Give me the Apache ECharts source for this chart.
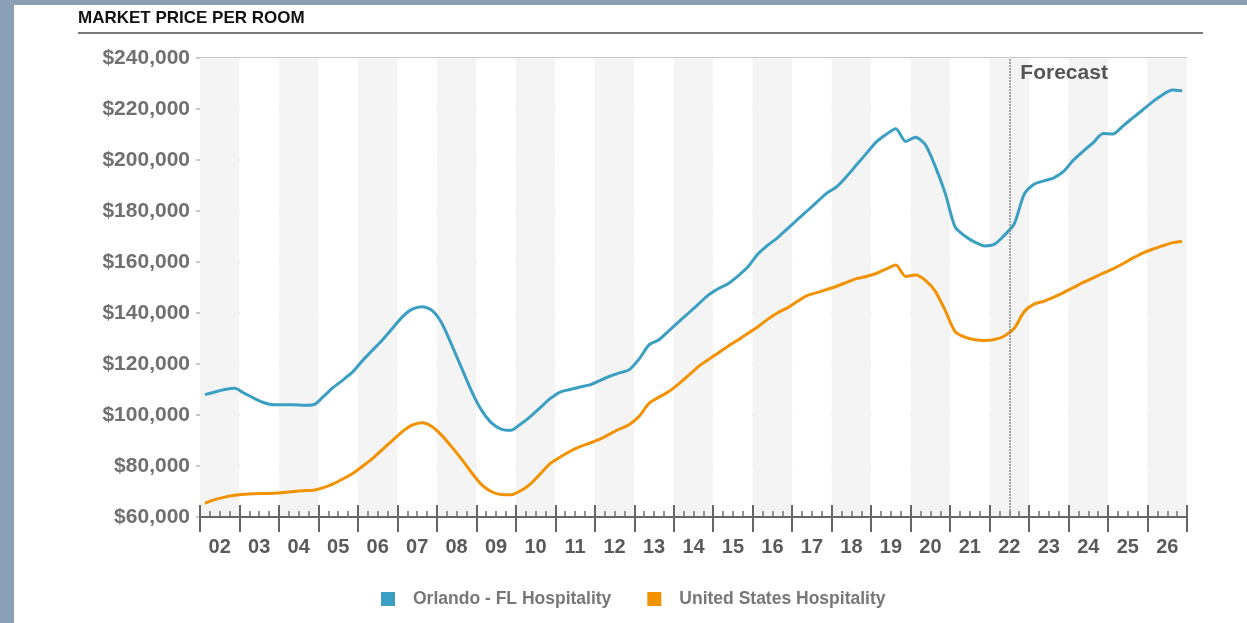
<!DOCTYPE html>
<html>
<head>
<meta charset="utf-8">
<script src="https://cdn.jsdelivr.net/npm/echarts@6/dist/echarts.min.js"></script>
<style>
  html, body { margin: 0; padding: 0; background: #ffffff; }
  #chart { width: 1247px; height: 623px; }
</style>
</head>
<body>
<div id="chart"></div>
<script>
// Quarterly market price per room, 2002 Q1 – 2026 Q4 (forecast from mid-2022)
const startYear = 2002;
const endYear = 2027;
const forecastStart = 2022.5;

const yearLabels = ['02','03','04','05','06','07','08','09','10','11','12','13',
  '14','15','16','17','18','19','20','21','22','23','24','25','26'];

const seriesNames = ['Orlando - FL Hospitality', 'United States Hospitality'];

const orlando = [
  108000, 109000, 110000, 110500,
  108500, 106500, 104800, 104000,
  104000, 104000, 103800, 104000,
  107200, 110800, 113800, 117000,
  121500, 125500, 129500, 134000,
  138500, 141500, 142500, 141000,
  136000, 127500, 118500, 109500,
  102000, 97000, 94500, 94000,
  96500, 99500, 103000, 106500,
  109000, 110000, 111000, 111800,
  113500, 115200, 116500, 117800,
  122000, 127500, 129500, 133000,
  136500, 140000, 143500, 147000,
  149500, 151500, 154500, 158000,
  163000, 166500, 169500, 173000,
  176500, 180000, 183500, 187000,
  189500, 193500, 198000, 202500,
  207000, 210000, 212300, 207300,
  208900, 205900, 197400, 187000,
  173800, 170200, 167800, 166300,
  167000, 170500, 175000, 186500,
  190500, 191800, 193000, 195500,
  200000, 203500, 206800, 210400,
  210200, 213300, 216500, 219600,
  222800, 225500, 227500, 227200
];

const unitedStates = [
  65400, 66800, 67800, 68500,
  68900, 69100, 69200, 69300,
  69600, 70000, 70300, 70500,
  71500, 73000, 75000, 77200,
  80000, 83000, 86500, 90000,
  93500, 96000, 97000, 95500,
  92000, 87500, 82700, 77500,
  72800, 70000, 68800, 68700,
  70300, 73000, 77000, 81000,
  83500, 85800, 87600, 89000,
  90500, 92500, 94500, 96300,
  99500, 104600, 107000, 109200,
  112200, 115500, 119000, 121700,
  124300, 127000, 129400, 132000,
  134500, 137500, 140000, 142000,
  144500, 146800, 148000, 149200,
  150500, 152000, 153500, 154300,
  155500, 157200, 158800, 154300,
  154900, 152800, 148500, 141000,
  132700, 130500, 129500, 129200,
  129600, 131000, 134000, 140500,
  143500, 144600, 146200, 148000,
  150000, 152000, 153800, 155600,
  157300, 159300, 161500, 163500,
  165000, 166300, 167500, 168000
];

const colors = ['#3a9fc2', '#f39200'];

// each value sits in the middle of its quarter
function toPoints(values) {
  return values.map((v, i) => [startYear + (i + 0.5) / 4, v]);
}

const FONT = '"Liberation Sans", Arial, sans-serif';

const chart = echarts.init(document.getElementById('chart'), null, { renderer: 'canvas' });

const option = {
  backgroundColor: '#ffffff',
  animation: false,
  color: colors,
  grid: { left: 200, right: 60, top: 58, bottom: 106, containLabel: false },
  xAxis: [
    {
      // quarterly scale carrying the lines, year ticks and quarter ticks
      type: 'value',
      min: startYear,
      max: endYear,
      interval: 1,
      axisLine: { show: true, lineStyle: { color: '#666666', width: 2 } },
      axisTick: { show: true, inside: true, length: 12, lineStyle: { color: '#666666', width: 2 } },
      minorTick: { show: true, splitNumber: 4, length: 6, lineStyle: { color: '#707070', width: 1.5 } },
      axisLabel: { show: false },
      splitLine: { show: false }
    },
    {
      // year bands with alternating shading and two-digit year labels
      type: 'category',
      data: yearLabels,
      boundaryGap: true,
      position: 'bottom',
      axisLine: { show: false },
      axisTick: { show: true, inside: false, length: 15, interval: 0, lineStyle: { color: '#666666', width: 2 } },
      axisLabel: {
        interval: 0, margin: 20,
        color: '#5a5a5a', fontFamily: FONT, fontWeight: 'bold', fontSize: 20
      },
      splitLine: { show: false },
      splitArea: { show: true, interval: 0, areaStyle: { color: ['#f4f4f4', '#ffffff'] } }
    }
  ],
  yAxis: {
    type: 'value',
    min: 60000,
    max: 240000,
    interval: 20000,
    axisLine: { show: false },
    axisTick: { show: true, length: 4, lineStyle: { color: '#c8c8c8', width: 2 } },
    axisLabel: {
      margin: 10,
      color: '#707070', fontFamily: FONT, fontWeight: 'bold', fontSize: 21,
      formatter: v => '$' + v.toLocaleString('en-US')
    },
    splitLine: { show: true, lineStyle: { color: '#c8c8c8', width: 2 } }
  },
  legend: {
    left: 376,
    top: 585,
    icon: 'rect',
    itemWidth: 14,
    itemHeight: 14,
    itemGap: 36,
    data: seriesNames,
    textStyle: {
      color: '#777777', fontFamily: FONT, fontWeight: 'bold', fontSize: 17.5,
      padding: [0, 0, 0, 13]
    }
  },
  graphic: [
    // frame strips
    { type: 'rect', z: -10, shape: { x: 0, y: 0, width: 14, height: 623 }, style: { fill: '#89a0b6' } },
    { type: 'rect', z: -10, shape: { x: 0, y: 0, width: 1247, height: 5 }, style: { fill: '#89a0b6' } },
    // heading and rule
    {
      type: 'text', left: 78, top: 10,
      style: { text: 'MARKET PRICE PER ROOM', fill: '#111111', font: 'bold 17px ' + FONT }
    },
    { type: 'line', shape: { x1: 78, y1: 33, x2: 1203, y2: 33 }, style: { stroke: '#7a7a7a', lineWidth: 2 } }
  ],
  series: [
    {
      name: seriesNames[0],
      type: 'line',
      xAxisIndex: 0,
      data: toPoints(orlando),
      showSymbol: false,
      smooth: 0.25,
      lineStyle: { width: 3, color: colors[0] },
      itemStyle: { color: colors[0] },
      z: 3,
      markLine: {
        silent: true,
        symbol: 'none',
        label: { show: false },
        lineStyle: { type: [2, 1], color: '#888888', width: 1.5 },
        data: [{ xAxis: forecastStart }]
      },
      // "Forecast" caption anchored at the top of the divider
      markPoint: {
        silent: true,
        symbol: 'circle',
        symbolSize: 0,
        itemStyle: { color: 'transparent' },
        label: {
          show: true,
          position: 'right',
          distance: 0,
          offset: [11, 15],
          formatter: 'Forecast',
          color: '#555555', fontFamily: FONT, fontWeight: 'bold', fontSize: 21
        },
        data: [{ coord: [forecastStart, 240000] }]
      }
    },
    {
      name: seriesNames[1],
      type: 'line',
      xAxisIndex: 0,
      data: toPoints(unitedStates),
      showSymbol: false,
      smooth: 0.25,
      lineStyle: { width: 3, color: colors[1] },
      itemStyle: { color: colors[1] },
      z: 3
    }
  ]
};

chart.setOption(option);
</script>
</body>
</html>
